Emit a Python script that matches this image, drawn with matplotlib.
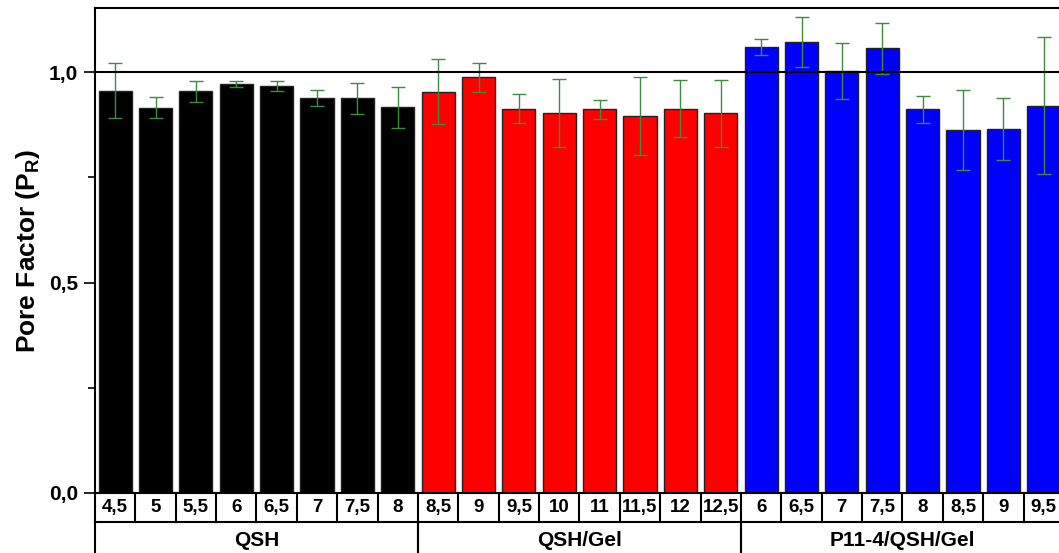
import numpy as np
import matplotlib.pyplot as plt
from matplotlib.ticker import MultipleLocator

plt.rcParams['font.family'] = ['Liberation Sans', 'DejaVu Sans']
plt.rcParams['font.weight'] = 'bold'

# pH values per sample, grouped by formulation
groups = ['QSH', 'QSH/Gel', 'P11-4/QSH/Gel']
group_colors = ['#000000', '#ff0000', '#0000ff']
ph_qsh = ['4,5', '5', '5,5', '6', '6,5', '7', '7,5', '8']
ph_qsh_gel = ['8,5', '9', '9,5', '10', '11', '11,5', '12', '12,5']
ph_p11 = ['6', '6,5', '7', '7,5', '8', '8,5', '9', '9,5']

pr_qsh = [0.956, 0.915, 0.954, 0.972, 0.967, 0.938, 0.938, 0.916]
pr_qsh_gel = [0.953, 0.987, 0.913, 0.902, 0.911, 0.896, 0.913, 0.902]
pr_p11 = [1.059, 1.072, 1.002, 1.056, 0.912, 0.863, 0.865, 0.920]

err_qsh = [0.065, 0.025, 0.025, 0.007, 0.012, 0.019, 0.037, 0.049]
err_qsh_gel = [0.077, 0.035, 0.034, 0.081, 0.023, 0.092, 0.067, 0.080]
err_p11 = [0.019, 0.059, 0.066, 0.061, 0.032, 0.095, 0.073, 0.163]

labels = [ph_qsh, ph_qsh_gel, ph_p11]
values = [pr_qsh, pr_qsh_gel, pr_p11]
errors = [err_qsh, err_qsh_gel, err_p11]

fig = plt.figure(figsize=(10.59, 5.53), dpi=100)
ax = fig.add_axes([0.0897, 0.1085, 0.915, 0.877])

start = 0
for name, lab, val, err, col in zip(groups, labels, values, errors, group_colors):
    x = np.arange(start, start + len(val))
    ax.bar(x, val, width=0.82, color=col, edgecolor='#222222', linewidth=1.0, zorder=2)
    ax.errorbar(x, val, yerr=err, fmt='none', ecolor='#3f8a3f', elinewidth=1.0,
                capsize=5, capthick=1.0, zorder=3)
    start += len(val)

n = start
ax.axhline(1.0, color='black', linewidth=1.5, zorder=4)

ax.set_xlim(-0.5, n - 0.5)
ax.set_ylim(0, 1.152)
ax.yaxis.set_major_locator(MultipleLocator(0.5))
ax.yaxis.set_minor_locator(MultipleLocator(0.25))
ax.yaxis.set_major_formatter(plt.FuncFormatter(lambda v, p: f'{v:.1f}'.replace('.', ',')))
ax.tick_params(axis='y', which='major', direction='out', length=8, width=1.2,
               labelsize=15, pad=4)
ax.tick_params(axis='y', which='minor', direction='out', length=5, width=1.2)
ax.set_xticks([])
for s in ax.spines.values():
    s.set_linewidth(1.5)
ax.set_ylabel('Pore Factor (P$_\\mathregular{R}$)', fontsize=19, fontweight='bold',
              labelpad=5)

# table of pH values and group names below the bars
trans = ax.get_xaxis_transform()
row1 = -29 / 485
row2 = -0.14
all_labels = [l for lab in labels for l in lab]
for i, l in enumerate(all_labels):
    ax.text(i, row1 / 2, l, transform=trans, ha='center', va='center',
            fontsize=13.5, fontweight='bold')
for i in range(n + 1):
    ax.plot([i - 0.5, i - 0.5], [0, row1], transform=trans, color='black',
            linewidth=1.5, clip_on=False)
ax.plot([-0.5, n - 0.5], [row1, row1], transform=trans, color='black',
        linewidth=1.5, clip_on=False)
start = 0
for name, lab in zip(groups, labels):
    ax.text(start + (len(lab) - 1) / 2, row1 - 19 / 485, name, transform=trans,
            ha='center', va='center', fontsize=15, fontweight='bold')
    for edge in (start - 0.5, start + len(lab) - 0.5):
        ax.plot([edge, edge], [row1, row2], transform=trans, color='black',
                linewidth=1.5, clip_on=False)
    start += len(lab)

fig.savefig('out.png', dpi=100)
